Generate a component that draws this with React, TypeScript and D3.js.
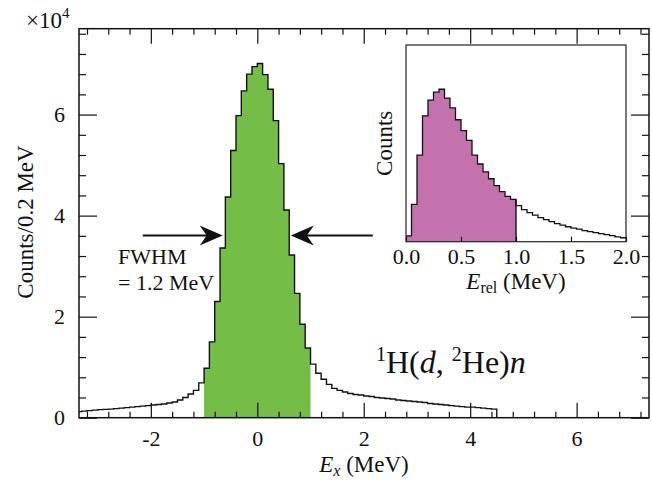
import React, { useEffect, useRef } from "react";
import * as d3 from "d3";

// main spectrum, E_x bins of 0.1 MeV starting at -3.4 MeV, counts in units of 10^4
const mainStart = -3.4;
const mainBin = 0.1;
const mainCounts = [
  0.12, 0.13, 0.14, 0.15, 0.16, 0.165, 0.17, 0.18, 0.19, 0.2,
  0.21, 0.22, 0.23, 0.24, 0.25, 0.26, 0.27, 0.29, 0.31, 0.35,
  0.4, 0.47, 0.54, 0.69, 0.98, 1.5, 2.3, 3.36, 4.37, 5.29,
  5.98, 6.47, 6.8, 6.95, 7.01, 6.79, 6.5, 5.88, 5.03, 4.11,
  3.22, 2.46, 1.85, 1.38, 1.06, 0.88, 0.76, 0.66, 0.58, 0.54,
  0.51, 0.48, 0.46, 0.45, 0.43, 0.42, 0.4, 0.39, 0.38, 0.37,
  0.35, 0.34, 0.33, 0.32, 0.31, 0.3, 0.28, 0.27, 0.26, 0.25,
  0.24, 0.23, 0.22, 0.21, 0.21, 0.2, 0.19, 0.18, 0.17,
  0, 0, 0, 0, 0, 0, 0, 0,
];
// gate window (MeV)
const gate = [-1.0, 1.0];

// inset: E_rel bins of 0.05 MeV from 0, arbitrary counts
const relBin = 0.05;
const relCounts = [
  3, 19, 44, 64, 72, 76, 77.5, 73, 68, 62,
  56.5, 51.5, 44, 39.5, 35.5, 32, 28.5, 25.5, 23, 21.5,
  18.3, 16.3, 14.8, 13.5, 12.2, 11.2, 10.2, 9.2, 8.4, 7.6,
  6.9, 6.4, 5.6, 5.1, 4.6, 4.1, 3.6, 3.1, 2.5, 2.0,
];
const relGate = 1.0;

const xMajor = [-2, 0, 2, 4, 6];
const yMajor = [0, 2, 4, 6];
const relTicks = [0, 0.5, 1.0, 1.5, 2.0];

const W = 652;
const H = 481;
const FONT = "'Liberation Serif', 'Times New Roman', serif";
const GREEN = "#74be48";
const PURPLE = "#c472ae";

const App = () => {
  const svgRef = useRef<SVGSVGElement>(null);

  useEffect(() => {
    const svg = d3.select(svgRef.current);
    svg.selectAll("*").remove();

    const x = d3.scaleLinear().domain([-3.35, 7.36]).range([79, 649]);
    const y = d3.scaleLinear().domain([0, 7.7]).range([417.7, 28.7]);
    const [x0, x1] = x.range();
    const [yb, yt] = y.range();

    svg.append("rect").attr("width", W).attr("height", H).attr("fill", "#fff");

    svg.append("clipPath").attr("id", "mainclip")
      .append("rect").attr("x", x0).attr("y", yt).attr("width", x1 - x0).attr("height", yb - yt);

    // histogram points
    const pts = mainCounts.map((v, i) => [mainStart + i * mainBin, v] as [number, number]);
    pts.push([mainStart + mainCounts.length * mainBin, mainCounts[mainCounts.length - 1]]);
    const gatePts = pts.filter((p, i) => i < mainCounts.length && p[0] > gate[0] - 1e-6 && p[0] < gate[1] - 1e-6);
    gatePts.push([gate[1], gatePts[gatePts.length - 1][1]]);

    const area = d3.area<[number, number]>()
      .x(d => x(d[0])).y0(y(0)).y1(d => y(d[1])).curve(d3.curveStepAfter);
    const line = d3.line<[number, number]>()
      .x(d => x(d[0])).y(d => y(d[1])).curve(d3.curveStepAfter);

    const plot = svg.append("g").attr("clip-path", "url(#mainclip)");
    plot.append("path").attr("d", area(gatePts)).attr("fill", GREEN);
    plot.append("path").attr("d", line(pts)).attr("fill", "none")
      .attr("stroke", "#111").attr("stroke-width", 1.4);

    // axes, ticks inward on all sides
    const xMinor = d3.range(-8, 19).map(k => k * 0.4).filter(v => Math.abs(v / 2 - Math.round(v / 2)) > 1e-6);
    const yMinor = d3.range(0, 20).map(k => k * 0.4).filter(v => Math.abs(v / 2 - Math.round(v / 2)) > 1e-6);

    const styleAxis = (g, size) => {
      g.select(".domain").remove();
      g.selectAll("line").attr("stroke", "#111").attr("stroke-width", 1.2);
      g.attr("font-family", FONT).attr("font-size", size);
      g.selectAll("text").attr("fill", "#111");
    };

    svg.append("g").attr("transform", `translate(0,${yb})`)
      .call(d3.axisBottom(x).tickValues(xMajor).tickSize(-15).tickPadding(13).tickFormat(d => String(d)))
      .call(g => styleAxis(g, 22));
    svg.append("g").attr("transform", `translate(0,${yb})`)
      .call(d3.axisBottom(x).tickValues(xMinor).tickSize(-6).tickFormat(() => ""))
      .call(g => styleAxis(g, 22));
    svg.append("g").attr("transform", `translate(0,${yt})`)
      .call(d3.axisTop(x).tickValues(xMajor).tickSize(-15).tickFormat(() => ""))
      .call(g => styleAxis(g, 22));
    svg.append("g").attr("transform", `translate(0,${yt})`)
      .call(d3.axisTop(x).tickValues(xMinor).tickSize(-6).tickFormat(() => ""))
      .call(g => styleAxis(g, 22));
    svg.append("g").attr("transform", `translate(${x0},0)`)
      .call(d3.axisLeft(y).tickValues(yMajor).tickSize(-18).tickPadding(14).tickFormat(d => String(d)))
      .call(g => styleAxis(g, 22));
    svg.append("g").attr("transform", `translate(${x0},0)`)
      .call(d3.axisLeft(y).tickValues(yMinor).tickSize(-7).tickFormat(() => ""))
      .call(g => styleAxis(g, 22));
    svg.append("g").attr("transform", `translate(${x1},0)`)
      .call(d3.axisRight(y).tickValues(yMajor).tickSize(-18).tickFormat(() => ""))
      .call(g => styleAxis(g, 22));
    svg.append("g").attr("transform", `translate(${x1},0)`)
      .call(d3.axisRight(y).tickValues(yMinor).tickSize(-7).tickFormat(() => ""))
      .call(g => styleAxis(g, 22));

    svg.append("rect").attr("x", x0).attr("y", yt).attr("width", x1 - x0).attr("height", yb - yt)
      .attr("fill", "none").attr("stroke", "#111").attr("stroke-width", 1.5);

    // axis titles
    const t = svg.append("g").attr("font-family", FONT).attr("fill", "#111");
    const xl = t.append("text").attr("x", (x0 + x1) / 2).attr("y", 472).attr("text-anchor", "middle").attr("font-size", 23);
    xl.append("tspan").attr("font-style", "italic").text("E");
    xl.append("tspan").attr("font-style", "italic").attr("font-size", 16).attr("dy", 4).text("x");
    xl.append("tspan").attr("dy", -4).text(" (MeV)");

    t.append("text").attr("transform", "translate(33,222) rotate(-90)").attr("text-anchor", "middle")
      .attr("font-size", 23).text("Counts/0.2 MeV");

    const mult = t.append("text").attr("x", 26).attr("y", 28).attr("font-size", 23);
    mult.append("tspan").text("×10");
    mult.append("tspan").attr("font-size", 15).attr("dy", -10).text("4");

    // FWHM annotation
    t.append("text").attr("x", 118).attr("y", 264).attr("font-size", 22).text("FWHM");
    t.append("text").attr("x", 118).attr("y", 290).attr("font-size", 22).text("= 1.2 MeV");

    const ay = 235.5;
    const arrow = (from, tip) => {
      const dir = tip > from ? 1 : -1;
      svg.append("line").attr("x1", from).attr("x2", tip - dir * 15).attr("y1", ay).attr("y2", ay)
        .attr("stroke", "#111").attr("stroke-width", 2);
      svg.append("path")
        .attr("d", `M${tip},${ay} L${tip - dir * 23},${ay - 10} L${tip - dir * 16},${ay} L${tip - dir * 23},${ay + 10} Z`)
        .attr("fill", "#111");
    };
    arrow(x(-2.15), x(-0.65));
    arrow(x(2.17), x(0.63));

    // reaction label
    const r = t.append("text").attr("x", 376).attr("y", 373).attr("font-size", 32);
    r.append("tspan").attr("font-size", 20).attr("dy", -12).text("1");
    r.append("tspan").attr("dy", 12).text("H(");
    r.append("tspan").attr("font-style", "italic").text("d");
    r.append("tspan").text(", ");
    r.append("tspan").attr("font-size", 20).attr("dy", -12).text("2");
    r.append("tspan").attr("dy", 12).text("He)");
    r.append("tspan").attr("font-style", "italic").text("n");

    // inset
    const xi = d3.scaleLinear().domain([0, 2]).range([406, 626]);
    const yi = d3.scaleLinear().domain([0, 100]).range([241.7, 45]);
    const [ib, itp] = yi.range();
    svg.append("rect").attr("x", xi(0)).attr("y", itp).attr("width", xi(2) - xi(0)).attr("height", ib - itp)
      .attr("fill", "#fff");

    const rpts = relCounts.map((v, i) => [i * relBin, v] as [number, number]);
    rpts.push([relCounts.length * relBin, relCounts[relCounts.length - 1]]);
    const rGate = rpts.filter((p, i) => i < relCounts.length && p[0] < relGate - 1e-6);
    rGate.push([relGate, rGate[rGate.length - 1][1]]);
    const rarea = d3.area<[number, number]>().x(d => xi(d[0])).y0(yi(0)).y1(d => yi(d[1])).curve(d3.curveStepAfter);
    const rline = d3.line<[number, number]>().x(d => xi(d[0])).y(d => yi(d[1])).curve(d3.curveStepAfter);
    svg.append("path").attr("d", rarea(rGate)).attr("fill", PURPLE);
    svg.append("path").attr("d", rline(rpts)).attr("fill", "none").attr("stroke", "#111").attr("stroke-width", 1.3);
    svg.append("line").attr("x1", xi(relGate)).attr("x2", xi(relGate))
      .attr("y1", yi(0)).attr("y2", yi(rGate[rGate.length - 1][1]))
      .attr("stroke", "#111").attr("stroke-width", 1.4);

    svg.append("g").attr("transform", `translate(0,${ib})`)
      .call(d3.axisBottom(xi).tickValues(relTicks).tickSize(-5).tickPadding(7).tickFormat(d3.format(".1f")))
      .call(g => styleAxis(g, 22));
    svg.append("rect").attr("x", xi(0)).attr("y", itp).attr("width", xi(2) - xi(0)).attr("height", ib - itp)
      .attr("fill", "none").attr("stroke", "#222").attr("stroke-width", 1.2);

    const el = t.append("text").attr("x", xi(1)).attr("y", 289).attr("text-anchor", "middle").attr("font-size", 23);
    el.append("tspan").attr("font-style", "italic").text("E");
    el.append("tspan").attr("font-size", 16).attr("dy", 4).text("rel");
    el.append("tspan").attr("dy", -4).text(" (MeV)");

    t.append("text").attr("transform", `translate(392,${(ib + itp) / 2}) rotate(-90)`).attr("text-anchor", "middle")
      .attr("font-size", 23).text("Counts");

    const he = t.append("text").attr("x", 481).attr("y", 128).attr("font-size", 32);
    he.append("tspan").attr("font-size", 20).attr("dy", -12).text("2");
    he.append("tspan").attr("dy", 12).text("He(");
    he.append("tspan").attr("font-style", "italic").text("p");
    he.append("tspan").text("-");
    he.append("tspan").attr("font-style", "italic").text("p");
    he.append("tspan").text(")");
  }, []);

  return (
    <svg ref={svgRef} width={W} height={H} style={{ position: "absolute", left: 0, top: 0 }} />
  );
};

export default App;
